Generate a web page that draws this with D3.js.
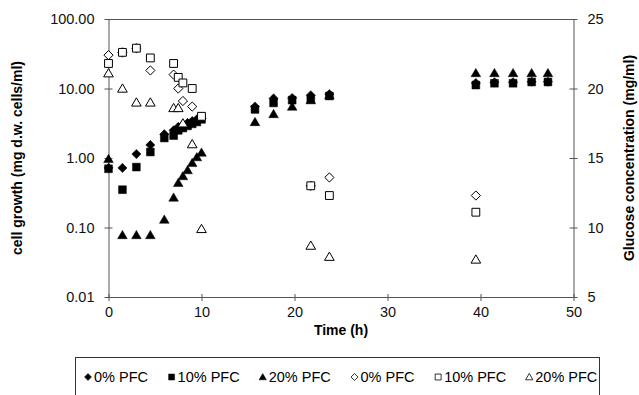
<!DOCTYPE html>
<html>
<head>
<meta charset="utf-8">
<script src="https://cdn.jsdelivr.net/npm/d3@7"></script>
<style>
  body { margin: 0; background: #fff; }
  svg { font-family: "Liberation Sans", Arial, sans-serif; }
</style>
</head>
<body>
<div id="chart"></div>
<script>
// cell growth (left axis, log) - sampling times in hours
var cellTime = [0, 1.5, 3, 4.5, 6, 7, 7.5, 8, 8.5, 9, 9.5, 10, 15.75, 17.75, 19.75, 21.75, 23.75, 39.5, 41.5, 43.5, 45.5, 47.25];
var growth0  = [0.72, 0.72, 1.14, 1.54, 2.2, 2.5, 2.8, 3.0, 3.2, 3.4, 3.6, 3.7, 5.5, 7.2, 7.3, 8.0, 8.3, 12.0, 12.3, 12.3, 12.5, 12.5];
var growth10 = [0.70, 0.35, 0.74, 1.22, 1.94, 2.1, 2.5, 2.7, 2.9, 3.1, 3.3, 3.6, 5.0, 6.2, 6.8, 7.0, 7.8, 11.2, 11.9, 11.9, 12.4, 12.4];
var growth20 = [0.97, 0.078, 0.078, 0.078, 0.13, 0.27, 0.44, 0.55, 0.67, 0.85, 1.03, 1.2, 3.3, 4.3, 5.5, 6.8, 8.0, 16.7, 16.7, 16.7, 16.7, 16.7];

// glucose (right axis)
var glucTime0  = [0, 1.5, 3, 4.5, 7, 7.5, 8, 9, 21.75, 23.75, 39.5];
var glucose0   = [22.4, 22.6, 22.9, 21.3, 21.0, 20.0, 19.1, 18.7, 13.0, 13.6, 12.3];
var glucTime10 = [0, 1.5, 3, 4.5, 7, 7.5, 8, 9, 10, 21.75, 23.75, 39.5];
var glucose10  = [21.8, 22.6, 22.9, 22.2, 21.8, 20.8, 20.4, 20.0, 18.0, 13.0, 12.3, 11.1];
var glucTime20 = [0, 1.5, 3, 4.5, 7, 7.5, 8, 9, 10, 21.75, 23.75, 39.5];
var glucose20  = [21.1, 20.0, 19.0, 19.0, 18.6, 18.6, 17.5, 16.0, 9.9, 8.7, 7.9, 7.7];

var xTicks = [0, 10, 20, 30, 40, 50];
var leftTicks = [0.01, 0.1, 1, 10, 100];
var rightTicks = [5, 10, 15, 20, 25];
var legendLabels = ["0% PFC", "10% PFC", "20% PFC", "0% PFC", "10% PFC", "20% PFC"];

var width = 639,
    height = 395,
    plotLeft = 108.5,
    plotRight = 573.5,
    plotTop = 19,
    plotBottom = 297,
    axisColor = "#555";

var svg = d3.select('#chart')
  .append('svg')
  .attr('width', width)
  .attr('height', height);

var x = d3.scaleLinear().domain([0, 50]).range([plotLeft, plotRight]);
var yL = d3.scaleLog().domain([0.01, 100]).range([plotBottom, plotTop]);
var yR = d3.scaleLinear().domain([5, 25]).range([plotBottom, plotTop]);

// marker shapes
function shapePath(shape, s) {
  if (shape === 'diamond') return 'M0,' + (-s) + 'L' + s + ',0L0,' + s + 'L' + (-s) + ',0Z';
  if (shape === 'square') { var h = s * 0.85; return 'M' + (-h) + ',' + (-h) + 'H' + h + 'V' + h + 'H' + (-h) + 'Z'; }
  return 'M0,' + (-s) + 'L' + (s * 1.05) + ',' + (s * 0.8) + 'H' + (-s * 1.05) + 'Z';
}

var series = [
  {t: cellTime, v: growth0, shape: 'diamond', filled: true, y: yL},
  {t: cellTime, v: growth10, shape: 'square', filled: true, y: yL},
  {t: cellTime, v: growth20, shape: 'triangle', filled: true, y: yL},
  {t: glucTime0, v: glucose0, shape: 'diamond', filled: false, y: yR},
  {t: glucTime10, v: glucose10, shape: 'square', filled: false, y: yR},
  {t: glucTime20, v: glucose20, shape: 'triangle', filled: false, y: yR}
];

// frame top line
svg.append('line')
  .attr('x1', plotLeft).attr('x2', plotRight)
  .attr('y1', plotTop + 0.5).attr('y2', plotTop + 0.5)
  .attr('stroke', axisColor);

var fmt = d3.format('.2f');

var gL = svg.append('g').attr('transform', 'translate(' + plotLeft + ',0)')
  .call(d3.axisLeft(yL).tickValues(leftTicks).tickFormat(fmt).tickSizeInner(4).tickSizeOuter(0).tickPadding(10));
var gR = svg.append('g').attr('transform', 'translate(' + plotRight + ',0)')
  .call(d3.axisRight(yR).tickValues(rightTicks).tickSizeInner(4).tickSizeOuter(0).tickPadding(10));
var gX = svg.append('g').attr('transform', 'translate(0,' + plotBottom + ')')
  .call(d3.axisBottom(x).tickValues(xTicks).tickSizeInner(4).tickSizeOuter(0).tickPadding(6));

[gL, gR, gX].forEach(function(g) {
  g.select('.domain').attr('stroke', axisColor);
  g.selectAll('.tick line').attr('stroke', axisColor);
  g.selectAll('text').attr('font-size', 14.5).attr('fill', '#111')
    .attr('font-family', '"Liberation Sans", Arial, sans-serif');
});
// ticks cross the axis line
gL.selectAll('.tick line').attr('x2', 4).attr('x1', -4);
gR.selectAll('.tick line').attr('x1', -4).attr('x2', 4);
gX.selectAll('.tick line').attr('y1', -3).attr('y2', 4);

// axis titles
svg.append('text')
  .attr('transform', 'translate(22,' + ((plotTop + plotBottom) / 2) + ') rotate(-90)')
  .attr('text-anchor', 'middle')
  .attr('font-size', 14).attr('font-weight', 'bold')
  .text('cell growth (mg d.w. cells/ml)');

svg.append('text')
  .attr('transform', 'translate(634,' + ((plotTop + plotBottom) / 2) + ') rotate(-90)')
  .attr('text-anchor', 'middle')
  .attr('font-size', 14).attr('font-weight', 'bold')
  .text('Glucose concentration (mg/ml)');

svg.append('text')
  .attr('x', (plotLeft + plotRight) / 2).attr('y', 335)
  .attr('text-anchor', 'middle')
  .attr('font-size', 14).attr('font-weight', 'bold')
  .text('Time (h)');

// markers
series.forEach(function(s) {
  svg.append('g').selectAll('path')
    .data(s.t.map(function(t, i) { return [t, s.v[i]]; }))
    .enter()
    .append('path')
    .attr('transform', function(d) { return 'translate(' + x(d[0]) + ',' + s.y(d[1]) + ')'; })
    .attr('d', shapePath(s.shape, 4.6))
    .attr('fill', s.filled ? '#000' : '#fff')
    .attr('stroke', '#000')
    .attr('stroke-width', s.filled ? 0.5 : 1);
});

// legend
svg.append('rect')
  .attr('x', 75.5).attr('y', 357.5)
  .attr('width', 524).attr('height', 60)
  .attr('fill', 'none').attr('stroke', '#333');

var lg = svg.append('g');
var items = lg.selectAll('g').data(series).enter().append('g');
items.append('path')
  .attr('d', function(d) { return shapePath(d.shape, 3.5); })
  .attr('fill', function(d) { return d.filled ? '#000' : '#fff'; })
  .attr('stroke', '#000')
  .attr('stroke-width', function(d) { return d.filled ? 0.5 : 0.8; });
items.append('text')
  .attr('x', 6).attr('dy', '0.35em')
  .attr('font-size', 14.5)
  .text(function(d, i) { return legendLabels[i]; });

// spread the entries across the box
var widths = [];
items.each(function() { widths.push(this.getBBox().width); });
var startX = 84, endX = 597;
var gap = (endX - startX - d3.sum(widths)) / (widths.length - 1);
var cx = startX;
items.attr('transform', function(d, i) {
  var tx = cx + 4;
  cx += widths[i] + gap;
  return 'translate(' + tx + ',377)';
});
</script>
</body>
</html>
